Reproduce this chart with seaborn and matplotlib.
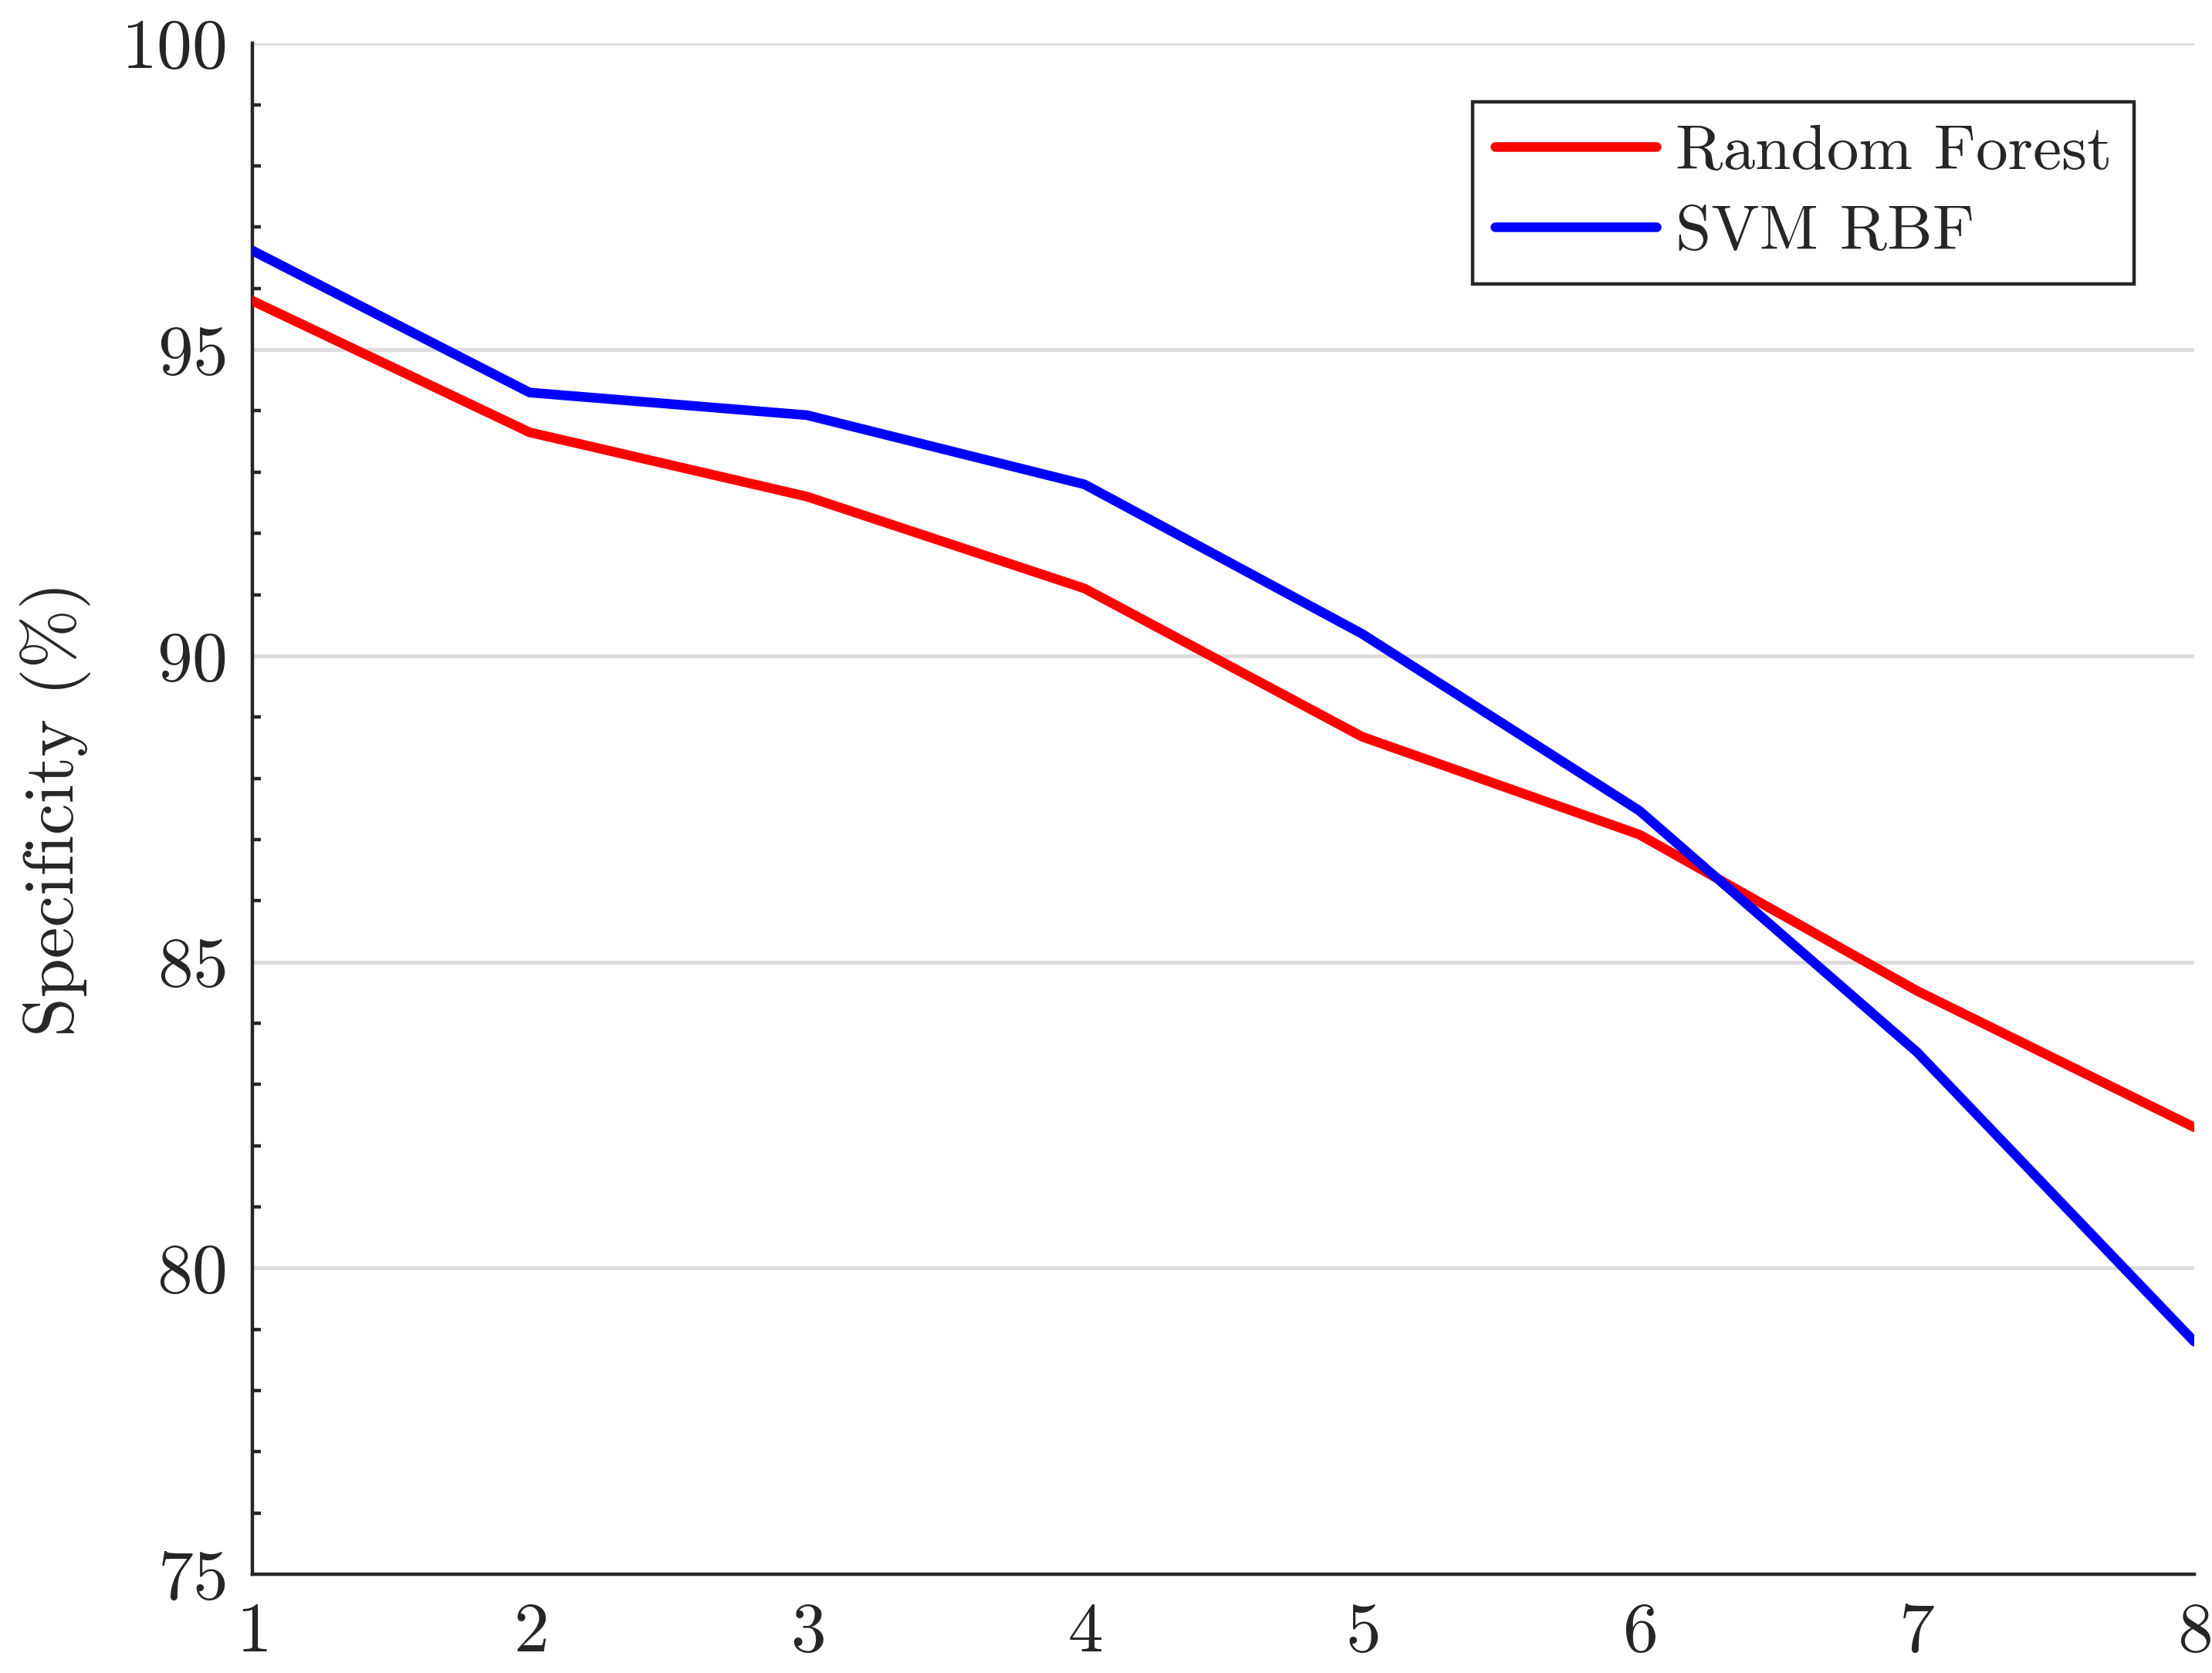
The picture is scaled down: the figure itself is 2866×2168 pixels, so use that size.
import pandas as pd
import matplotlib
matplotlib.use("Agg")
import matplotlib.pyplot as plt
import seaborn as sns
from matplotlib.ticker import MultipleLocator

# Data
steps = [1, 2, 3, 4, 5, 6, 7, 8]
random_forest = [95.8, 93.65, 92.6, 91.1, 88.68, 87.08, 84.53, 82.3]
svm_rbf = [96.62, 94.3, 93.93, 92.8, 90.36, 87.47, 83.53, 78.8]
series_names = ["Random Forest", "SVM RBF"]
series_colors = ["#ff0000", "#0000ff"]

df = pd.DataFrame({
    "step": steps * 2,
    "specificity": random_forest + svm_rbf,
    "model": [series_names[0]] * len(steps) + [series_names[1]] * len(steps),
})

sns.set_style("white")
plt.rcParams["font.family"] = ["cmr10", "DejaVu Serif"]
plt.rcParams["axes.formatter.use_mathtext"] = True
plt.rcParams["font.size"] = 33

fig = plt.figure(figsize=(14.33, 10.84), dpi=200)
ax = fig.add_axes([0.114, 0.059, 0.878, 0.915])

sns.lineplot(data=df, x="step", y="specificity", hue="model",
             palette=dict(zip(series_names, series_colors)),
             linewidth=4.5, ax=ax, zorder=3)

ax.set_xlim(1, 8)
ax.set_ylim(75, 100)
ax.set_xticks(steps)
ax.yaxis.set_major_locator(MultipleLocator(5))
ax.yaxis.set_minor_locator(MultipleLocator(1))
ax.grid(axis="y", which="major", color="#dcdcdc", linewidth=1.8, zorder=0)
ax.set_axisbelow(True)

for side in ["top", "right"]:
    ax.spines[side].set_visible(False)
for side in ["left", "bottom"]:
    ax.spines[side].set_linewidth(1.6)
    ax.spines[side].set_color("#262626")

ax.tick_params(axis="y", which="major", direction="in", length=8, width=1.6,
               color="#262626", labelcolor="#262626", labelsize=33, pad=12)
ax.tick_params(axis="y", which="minor", direction="in", length=4, width=1.6,
               color="#262626", left=True)
ax.tick_params(axis="x", which="major", direction="in", length=9, width=1.0,
               color="#262626", labelcolor="#262626", labelsize=33, pad=13)

ax.set_xlabel("")
ax.set_ylabel("Specificity (%)", fontsize=33, color="#262626")
ax.yaxis.set_label_coords(-0.083, 0.5)

leg = ax.legend(loc="upper right", bbox_to_anchor=(0.969, 0.962),
                borderaxespad=0, fontsize=30, frameon=True, fancybox=False,
                handlelength=2.5, handletextpad=0.3, borderpad=0.35,
                labelspacing=0.35)
leg.get_frame().set_edgecolor("#262626")
leg.get_frame().set_linewidth(1.6)
leg.get_frame().set_alpha(1)
for line in leg.get_lines():
    line.set_linewidth(4.5)

fig.savefig("out.png", dpi=200)
